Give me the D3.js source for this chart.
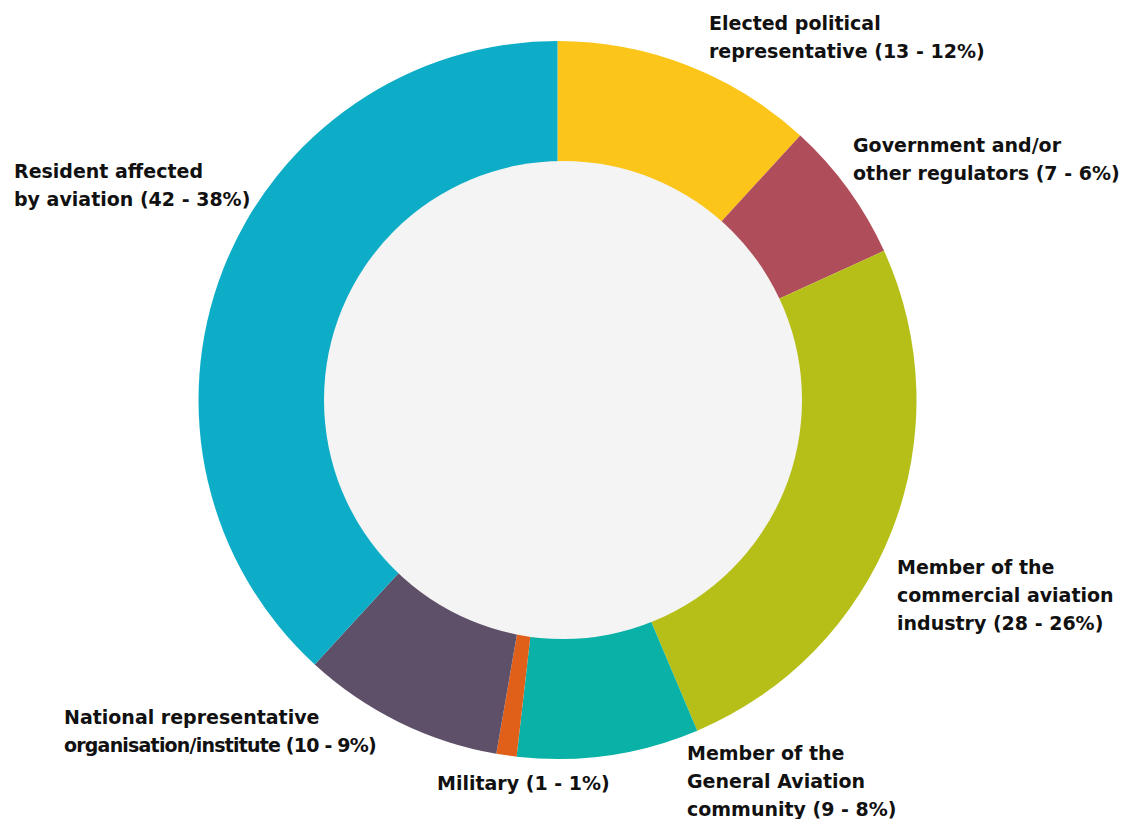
<!DOCTYPE html>
<html>
<head>
<meta charset="utf-8">
<script src="https://cdn.jsdelivr.net/npm/d3@7"></script>
<style>
  html, body { margin: 0; padding: 0; background: #ffffff; }
  svg { display: block; }
  text { font-family: "DejaVu Sans", "Liberation Sans", Arial, sans-serif; font-weight: bold; fill: #111111; }
</style>
</head>
<body>
<svg id="chart" width="1125" height="819"></svg>
<script>
// Respondent groups, clockwise from 12 o'clock
const categories = [
  "Elected political representative",
  "Government and/or other regulators",
  "Member of the commercial aviation industry",
  "Member of the General Aviation community",
  "Military",
  "National representative organisation/institute",
  "Resident affected by aviation"
];
const counts = [13, 7, 28, 9, 1, 10, 42];
const percents = [12, 6, 26, 8, 1, 9, 38];
const colors = ["#FBC519", "#B04D5A", "#B6BF17", "#0AB1A6", "#E0601A", "#5E5068", "#0EADC7"];
// Label text broken into lines
const labelLines = [
  ["Elected political", "representative (13 - 12%)"],
  ["Government and/or", "other regulators (7 - 6%)"],
  ["Member of the", "commercial aviation", "industry (28 - 26%)"],
  ["Member of the", "General Aviation", "community (9 - 8%)"],
  ["Military (1 - 1%)"],
  ["National representative", "organisation/institute (10 - 9%)"],
  ["Resident affected", "by aviation (42 - 38%)"]
];

const cx = 557.5, cy = 400;
const outerR = 359;
// the light centre disc sits a touch right of the ring centre
const holeCx = 563, holeR = 239;
const labelPos = [
  [709, 30], [853, 152], [897, 574], [687, 760], [437, 790], [64, 724], [14, 178]
];
const lineH = 28;

const svg = d3.select("#chart");
const g = svg.append("g").attr("transform", `translate(${cx},${cy})`);

const pie = d3.pie().sort(null).value(d => d.count);
const arc = d3.arc().innerRadius(200).outerRadius(outerR);

const data = categories.map((c, i) => ({ name: c, count: counts[i], pct: percents[i], color: colors[i] }));

g.selectAll("path.slice")
  .data(pie(data))
  .join("path")
  .attr("class", "slice")
  .attr("d", arc)
  .attr("fill", d => d.data.color);

svg.append("circle")
  .attr("cx", holeCx).attr("cy", cy)
  .attr("r", holeR).attr("fill", "#F4F4F4");

const labels = svg.append("g").attr("class", "labels");
labelLines.forEach((lines, i) => {
  const t = labels.append("text")
    .attr("x", labelPos[i][0])
    .attr("y", labelPos[i][1])
    .style("font-size", "19px");
  lines.forEach((ln, j) => {
    t.append("tspan")
      .attr("x", labelPos[i][0])
      .attr("y", labelPos[i][1] + j * lineH)
      .style("letter-spacing", ln.includes("/institute") ? "-0.8px" : null)
      .text(ln);
  });
});
</script>
</body>
</html>
